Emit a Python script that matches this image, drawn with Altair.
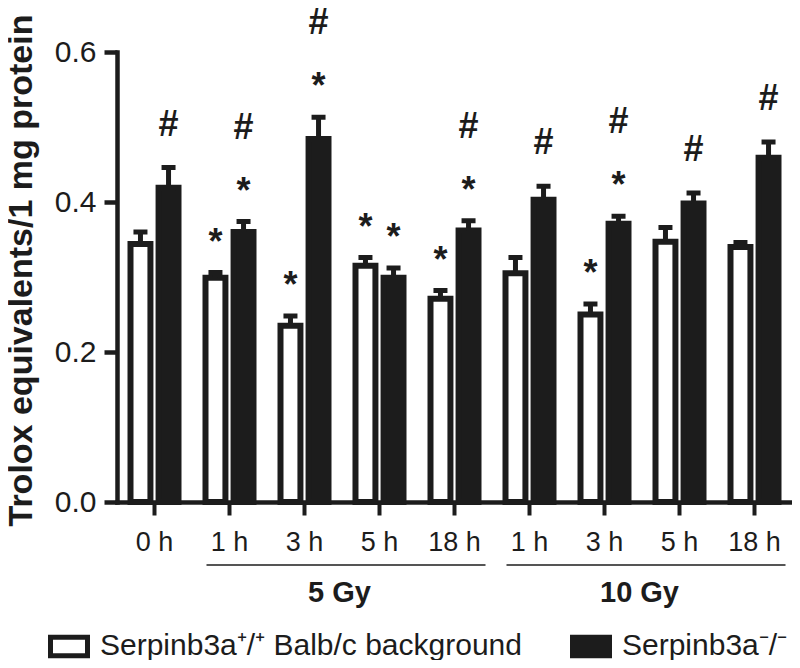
import altair as alt
import pandas as pd

# ---- data ----
categories = ["0h", "5Gy_1h", "5Gy_3h", "5Gy_5h", "5Gy_18h", "10Gy_1h", "10Gy_3h", "10Gy_5h", "10Gy_18h"]
tick_labels = ["0 h", "1 h", "3 h", "5 h", "18 h", "1 h", "3 h", "5 h", "18 h"]

series_names = ["Serpinb3a⁺/⁺ Balb/c background", "Serpinb3a⁻/⁻"]

wt_mean = [0.344, 0.299, 0.235, 0.315, 0.271, 0.305, 0.250, 0.347, 0.340]
wt_err = [0.016, 0.007, 0.013, 0.011, 0.011, 0.021, 0.014, 0.019, 0.006]
ko_mean = [0.419, 0.360, 0.484, 0.299, 0.362, 0.403, 0.371, 0.398, 0.459]
ko_err = [0.027, 0.014, 0.029, 0.013, 0.013, 0.018, 0.010, 0.014, 0.021]

wt_star = [0, 1, 1, 1, 1, 0, 1, 0, 0]
ko_star = [0, 1, 1, 1, 1, 0, 1, 0, 0]
ko_hash = [1, 1, 1, 0, 1, 1, 1, 1, 1]

groups = ["5 Gy", "10 Gy"]
group_first = ["5Gy_1h", "10Gy_1h"]
group_last = ["5Gy_18h", "10Gy_18h"]
group_mid = ["5Gy_3h", "10Gy_3h"]

INK = "#1c1c1c"
FONT = "Liberation Sans"

# ---- tables ----
rows = []
for i, c in enumerate(categories):
    rows.append(dict(cat=c, series=series_names[0], mean=wt_mean[i], top=wt_mean[i] + wt_err[i],
                     star=wt_star[i], hash=0))
    rows.append(dict(cat=c, series=series_names[1], mean=ko_mean[i], top=ko_mean[i] + ko_err[i],
                     star=ko_star[i], hash=ko_hash[i]))
df = pd.DataFrame(rows)
df_star = df[df.star == 1]
df_hash_alone = df[(df.hash == 1) & (df.star == 0)]
df_hash_star = df[(df.hash == 1) & (df.star == 1)]
gdf = pd.DataFrame(dict(group=groups, first=group_first, last=group_last, mid=group_mid))

label_map = "{" + ",".join(f"'{c}':'{l}'" for c, l in zip(categories, tick_labels)) + "}"

x_scale = alt.Scale(domain=categories, paddingInner=0.36, paddingOuter=0.18)
off_scale = alt.Scale(domain=series_names, paddingInner=0.29, paddingOuter=0)
y_scale = alt.Scale(domain=[0, 0.6])

x_enc = alt.X("cat:N", scale=x_scale, sort=categories, title=None,
              axis=alt.Axis(labelExpr=f"{label_map}[datum.value]", labelAngle=0,
                            labelFontSize=27, labelFont=FONT, labelColor=INK, labelPadding=14,
                            domainColor=INK, domainWidth=4.5, tickColor=INK, tickWidth=4,
                            tickSize=13, domainCap="square", grid=False))
y_enc = alt.Y("mean:Q", scale=y_scale,
              title="Trolox equivalents/1 mg protein",
              axis=alt.Axis(values=[0, 0.2, 0.4, 0.6], format=".1f", labelFontSize=30,
                            labelFont=FONT, labelColor=INK, labelPadding=8,
                            domainColor=INK, domainWidth=4.5, tickColor=INK, tickWidth=4.5,
                            tickSize=13, grid=False, domainCap="square",
                            titleFont=FONT, titleFontSize=34, titleFontWeight="bold",
                            titleColor=INK, titleAngle=270, titleAlign="center",
                            titleBaseline="alphabetic", titleX=-86, titleY=218))
off_enc = alt.XOffset("series:N", scale=off_scale, sort=series_names)

base = alt.Chart(df)

bars = base.mark_bar(stroke=INK, strokeWidth=6).encode(
    x=x_enc, xOffset=off_enc, y=y_enc,
    fill=alt.Fill("series:N", sort=series_names,
                  scale=alt.Scale(domain=series_names, range=["white", INK]),
                  legend=alt.Legend(title=None, orient="none", legendX=-69, legendY=573,
                                    direction="horizontal", symbolType="M-1,-0.5H1V0.5H-1Z",
                                    symbolSize=1369, symbolStrokeWidth=5,
                                    symbolStrokeColor=INK, labelFont=FONT, labelFontSize=30,
                                    labelColor=INK, labelOffset=10, labelLimit=0,
                                    columnPadding=40, padding=0)),
)

stems = base.mark_rule(color=INK, strokeWidth=5, opacity=1).encode(
    x=alt.X("cat:N", scale=x_scale, sort=categories), xOffset=off_enc,
    y=alt.Y("mean:Q", scale=y_scale), y2="top:Q")

caps = base.mark_tick(color=INK, thickness=5, size=14, opacity=1).encode(
    x=alt.X("cat:N", scale=x_scale, sort=categories), xOffset=off_enc,
    y=alt.Y("top:Q", scale=y_scale))

def sym_layer(data, text, dy):
    return alt.Chart(data).mark_text(text=text, font=FONT, fontSize=36, fontWeight="bold",
                                     color=INK, baseline="alphabetic", dy=dy).encode(
        x=alt.X("cat:N", scale=x_scale, sort=categories), xOffset=off_enc,
        y=alt.Y("top:Q", scale=y_scale))

stars = sym_layer(df_star, "*", -19)
hash1 = sym_layer(df_hash_alone, "#", -32)
hash2 = sym_layer(df_hash_star, "#", -83)

brackets = alt.Chart(gdf).mark_rule(color=INK, strokeWidth=1.6, xOffset=-23, x2Offset=31).encode(
    x=alt.X("first:N", scale=x_scale, sort=categories),
    x2="last:N", y=alt.value(513))

glabels = alt.Chart(gdf).mark_text(font=FONT, fontSize=29, fontWeight="bold", color=INK,
                                   baseline="alphabetic", dx=35).encode(
    x=alt.X("mid:N", scale=x_scale, sort=categories), y=alt.value(550), text="group:N")

chart = alt.layer(bars, stems, caps, stars, hash1, hash2, brackets, glabels).properties(
    width=675, height=450,
    background="white",
    autosize=alt.AutoSizeParams(type="none"),
    padding={"left": 109, "top": 44, "right": 0, "bottom": 158},
).configure_view(stroke=None).configure_axis(grid=False)

chart.save("out.html", embed_options={"renderer": "svg", "actions": False})
